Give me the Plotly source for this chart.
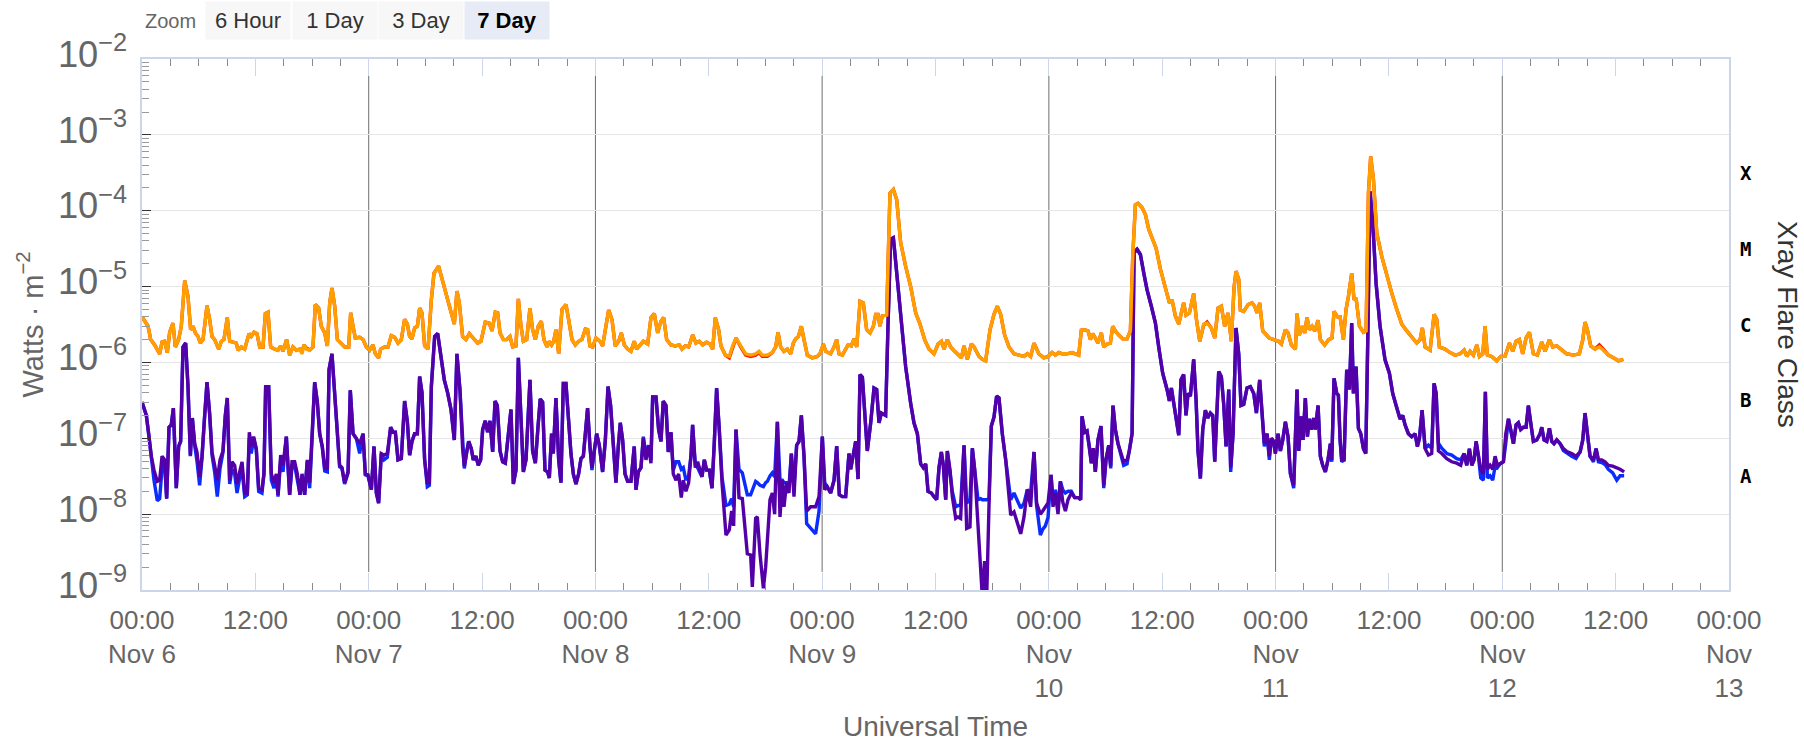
import pandas as pd
import plotly.graph_objects as go

START = pd.Timestamp("2024-11-06 00:00")

# ---------------- long channel (0.1-0.8 nm) ----------------
hours_long = [
    0.0, 0.64, 0.92, 1.34, 1.87, 2.12, 2.4, 2.68, 2.93, 3.28,
    3.53, 3.88, 4.16, 4.52, 4.87, 5.15, 5.4, 5.65, 5.93, 6.17,
    6.46, 6.88, 7.16, 7.41, 7.69, 8.12, 8.4, 8.68, 9.03, 9.28,
    9.63, 9.99, 10.16, 10.52, 10.87, 11.33, 11.57, 11.86, 12.17, 12.46,
    12.81, 13.06, 13.34, 13.62, 14.04, 14.4, 14.68, 14.93, 15.31, 15.63,
    15.98, 16.34, 16.69, 16.94, 17.15, 17.4, 17.75, 18.1, 18.35, 18.7,
    18.98, 19.34, 19.62, 19.87, 20.11, 20.4, 20.68, 21.1, 21.45, 21.88,
    22.09, 22.34, 22.58, 23.04, 23.4, 23.75, 24.1, 24.45, 24.7, 25.05,
    25.26, 25.69, 26.04, 26.39, 26.75, 27.1, 27.45, 27.8, 28.09, 28.33,
    28.58, 28.86, 29.15, 29.39, 29.64, 29.92, 30.28, 30.63, 30.91, 31.4,
    31.83, 32.18, 32.6, 33.06, 33.34, 33.59, 33.94, 34.3, 34.65, 35.07,
    35.53, 35.88, 36.34, 36.77, 37.05, 37.4, 37.65, 37.9, 38.25, 38.6,
    38.95, 39.24, 39.59, 39.84, 40.12, 40.37, 40.72, 41.07, 41.35, 41.64,
    41.95, 42.27, 42.55, 42.87, 43.12, 43.36, 43.58, 43.82, 44.11, 44.46,
    44.88, 45.16, 45.52, 45.87, 46.22, 46.57, 46.93, 47.17, 47.42, 47.7,
    48.06, 48.48, 48.76, 49.05, 49.4, 49.75, 50.1, 50.46, 50.74, 51.06,
    51.41, 51.76, 52.11, 52.36, 52.72, 53.07, 53.53, 53.88, 54.23, 54.59,
    54.94, 55.22, 55.54, 56.0, 56.45, 56.88, 57.16, 57.51, 57.87, 58.29,
    58.64, 59.0, 59.35, 59.77, 60.12, 60.41, 60.69, 61.04, 61.29, 61.75,
    62.17, 62.52, 62.88, 63.38, 63.9, 64.43, 64.96, 65.32, 65.67, 66.2,
    66.73, 67.08, 67.33, 67.61, 67.96, 68.32, 68.67, 68.95, 69.2, 69.48,
    69.8, 70.08, 70.43, 70.96, 71.49, 71.77, 72.13, 72.37, 72.9, 73.26,
    73.54, 73.78, 74.14, 74.74, 75.09, 75.37, 75.66, 76.01, 76.36, 76.71,
    77.07, 77.42, 77.67, 77.91, 78.12, 78.37, 78.83, 79.18, 79.54, 79.89,
    80.31, 80.84, 81.37, 81.9, 82.36, 82.85, 83.31, 83.84, 84.27, 84.62,
    84.9, 85.25, 85.6, 86.03, 86.38, 86.74, 87.02, 87.37, 87.8, 88.08,
    88.61, 88.96, 89.31, 89.77, 90.19, 90.55, 90.9, 91.32, 91.78, 92.31,
    92.84, 93.37, 93.72, 94.07, 94.43, 94.93, 95.46, 95.91, 96.34, 96.69,
    97.04, 97.4, 97.93, 98.45, 99.16, 99.44, 99.8, 100.15, 100.4, 100.64,
    100.92, 101.2, 101.56, 101.81, 102.16, 102.51, 102.76, 103.04, 103.39, 103.82,
    104.28, 104.63, 104.88, 105.16, 105.44, 105.86, 106.22, 106.57, 106.99, 107.35,
    107.81, 108.33, 108.76, 109.04, 109.39, 109.75, 110.03, 110.27, 110.52, 110.88,
    111.33, 111.62, 111.97, 112.39, 112.75, 113.2, 113.56, 113.91, 114.26, 114.61,
    114.97, 115.32, 115.6, 115.81, 116.1, 116.27, 116.63, 117.09, 117.51, 117.79,
    118.04, 118.32, 118.64, 118.99, 119.34, 119.8, 120.33, 120.61, 121.04, 121.32,
    121.67, 122.1, 122.27, 122.52, 122.8, 123.08, 123.33, 123.58, 123.86, 124.14,
    124.5, 124.74, 125.2, 125.62, 125.98, 126.19, 126.55, 126.83, 127.18, 127.46,
    127.71, 128.06, 128.31, 128.52, 128.88, 129.3, 129.58, 129.83, 130.07, 130.36,
    130.71, 131.24, 131.77, 132.3, 132.83, 133.36, 133.89, 134.41, 134.94, 135.3,
    135.54, 135.83, 136.36, 136.78, 137.06, 137.34, 137.94, 138.47, 139.0, 139.53,
    139.96, 140.24, 140.59, 140.94, 141.3, 141.58, 141.93, 142.18, 142.42, 142.88,
    143.41, 143.84, 144.29, 144.76, 145.11, 145.46, 145.81, 146.16, 146.52, 146.87,
    147.29, 147.72, 148.18, 148.53, 148.99, 149.34, 149.77, 150.19, 150.82, 151.53,
    152.16, 152.52, 152.76, 153.01, 153.36, 153.82, 154.28, 154.7, 155.23, 155.76,
    156.29, 156.82,
]

xrs_long_primary = [
    4.0e-6, 3.0e-6, 2.0e-6, 1.7e-6, 1.3e-6, 1.85e-6, 1.9e-6, 1.35e-6, 2.5e-6, 3.3e-6,
    1.6e-6, 2.0e-6, 3.0e-6, 1.2e-5, 7.4e-6, 2.7e-6, 3.0e-6, 2.45e-6, 2.2e-6, 1.8e-6,
    2.0e-6, 5.6e-6, 3.7e-6, 2.2e-6, 2.0e-6, 1.5e-6, 1.9e-6, 2.0e-6, 3.9e-6, 1.9e-6,
    1.85e-6, 1.8e-6, 1.45e-6, 1.6e-6, 1.5e-6, 2.4e-6, 2.2e-6, 2.5e-6, 2.4e-6, 1.6e-6,
    1.6e-6, 4.4e-6, 4.6e-6, 1.6e-6, 1.5e-6, 1.45e-6, 1.65e-6, 1.4e-6, 2.0e-6, 1.25e-6,
    1.6e-6, 1.45e-6, 1.5e-6, 1.3e-6, 1.7e-6, 1.5e-6, 1.45e-6, 1.6e-6, 5.8e-6, 5.2e-6,
    3.0e-6, 2.45e-6, 1.65e-6, 6.1e-6, 9.6e-6, 5.5e-6, 2.0e-6, 1.8e-6, 1.6e-6, 1.6e-6,
    4.5e-6, 3.0e-6, 2.1e-6, 2.15e-6, 2.0e-6, 1.6e-6, 1.45e-6, 1.7e-6, 1.3e-6, 1.15e-6,
    1.5e-6, 1.6e-6, 1.6e-6, 2.25e-6, 2.15e-6, 1.8e-6, 2.0e-6, 3.7e-6, 3.2e-6, 2.2e-6,
    2.05e-6, 2.85e-6, 3.0e-6, 5.2e-6, 4.5e-6, 1.65e-6, 1.5e-6, 6.7e-6, 1.5e-5, 1.85e-5,
    1.2e-5, 8.2e-6, 5.2e-6, 3.2e-6, 8.7e-6, 6.1e-6, 2.2e-6, 2.0e-6, 2.4e-6, 2.05e-6,
    1.8e-6, 1.9e-6, 3.4e-6, 3.3e-6, 2.6e-6, 4.6e-6, 4.5e-6, 2.45e-6, 2.0e-6, 2.0e-6,
    2.2e-6, 1.6e-6, 1.65e-6, 6.9e-6, 3.0e-6, 1.9e-6, 2.0e-6, 5.2e-6, 2.7e-6, 2.0e-6,
    3.0e-6, 3.5e-6, 2.0e-6, 1.6e-6, 1.9e-6, 1.7e-6, 1.9e-6, 2.7e-6, 1.3e-6, 5.0e-6,
    5.8e-6, 3.7e-6, 2.0e-6, 1.7e-6, 1.9e-6, 2.0e-6, 2.75e-6, 2.7e-6, 1.65e-6, 1.6e-6,
    2.1e-6, 1.9e-6, 1.65e-6, 2.7e-6, 4.9e-6, 3.7e-6, 1.65e-6, 1.9e-6, 2.45e-6, 1.7e-6,
    1.5e-6, 1.4e-6, 1.9e-6, 1.5e-6, 1.7e-6, 1.9e-6, 1.75e-6, 3.9e-6, 4.4e-6, 2.45e-6,
    3.5e-6, 3.9e-6, 2.0e-6, 1.7e-6, 1.65e-6, 1.7e-6, 1.5e-6, 1.65e-6, 1.6e-6, 2.3e-6,
    1.8e-6, 1.9e-6, 1.7e-6, 1.85e-6, 1.75e-6, 1.5e-6, 3.9e-6, 2.7e-6, 1.65e-6, 1.25e-6,
    1.2e-6, 1.65e-6, 2.1e-6, 1.65e-6, 1.3e-6, 1.25e-6, 1.3e-6, 1.4e-6, 1.25e-6, 1.25e-6,
    1.35e-6, 1.6e-6, 2.5e-6, 1.6e-6, 1.4e-6, 1.5e-6, 1.3e-6, 1.8e-6, 2.05e-6, 2.2e-6,
    3.0e-6, 2.0e-6, 1.25e-6, 1.15e-6, 1.2e-6, 1.3e-6, 1.75e-6, 1.4e-6, 1.3e-6, 1.6e-6,
    2.0e-6, 1.3e-6, 1.25e-6, 1.7e-6, 1.65e-6, 2.05e-6, 1.6e-6, 6.4e-6, 6.1e-6, 2.7e-6,
    2.45e-6, 3.0e-6, 4.3e-6, 4.3e-6, 3.0e-6, 4.1e-6, 4.2e-6, 1.7e-4, 1.9e-4, 1.4e-4,
    3.8e-5, 1.85e-5, 1.0e-5, 4.5e-6, 3.2e-6, 2.0e-6, 1.5e-6, 1.3e-6, 1.75e-6, 1.9e-6,
    1.5e-6, 2.0e-6, 1.6e-6, 1.4e-6, 1.25e-6, 1.15e-6, 1.65e-6, 1.1e-6, 1.75e-6, 1.6e-6,
    1.2e-6, 1.1e-6, 1.05e-6, 2.7e-6, 4.3e-6, 5.5e-6, 4.3e-6, 2.3e-6, 1.6e-6, 1.3e-6,
    1.25e-6, 1.2e-6, 1.3e-6, 1.2e-6, 1.8e-6, 1.3e-6, 1.15e-6, 1.2e-6, 1.35e-6, 1.25e-6,
    1.35e-6, 1.3e-6, 1.3e-6, 1.35e-6, 1.25e-6, 2.65e-6, 2.7e-6, 2.6e-6, 2.0e-6, 2.4e-6,
    2.1e-6, 1.8e-6, 2.45e-6, 1.6e-6, 1.75e-6, 1.8e-6, 3.0e-6, 2.6e-6, 2.3e-6, 2.05e-6,
    2.05e-6, 2.6e-6, 2.5e-5, 1.2e-4, 1.25e-4, 1.1e-4, 8.9e-5, 5.7e-5, 4.2e-5, 3.2e-5,
    1.7e-5, 1.0e-5, 6.1e-6, 6.7e-6, 4.1e-6, 3.2e-6, 4.5e-6, 6.1e-6, 4.2e-6, 4.5e-6,
    8.1e-6, 3.7e-6, 1.9e-6, 3.2e-6, 3.3e-6, 2.85e-6, 2.1e-6, 5.2e-6, 5.5e-6, 3.0e-6,
    4.5e-6, 1.9e-6, 9.6e-6, 1.6e-5, 1.25e-5, 4.9e-6, 4.7e-6, 5.8e-6, 6.1e-6, 5.5e-6,
    4.5e-6, 6.1e-6, 2.6e-6, 2.3e-6, 2.1e-6, 2.0e-6, 1.9e-6, 1.75e-6, 2.7e-6, 2.45e-6,
    1.7e-6, 1.5e-6, 4.4e-6, 2.3e-6, 3.0e-6, 2.45e-6, 3.9e-6, 2.7e-6, 3.0e-6, 2.6e-6,
    3.6e-6, 2.0e-6, 1.7e-6, 2.0e-6, 2.1e-6, 4.7e-6, 4.0e-6, 4.0e-6, 2.0e-6, 5.0e-6,
    7.4e-6, 1.5e-5, 6.7e-6, 7.1e-6, 3.0e-6, 2.5e-6, 2.6e-6, 1.7e-4, 5.2e-4, 2.6e-4,
    5.1e-5, 2.5e-5, 1.37e-5, 8.2e-6, 5.0e-6, 3.2e-6, 2.6e-6, 2.2e-6, 1.8e-6, 2.0e-6,
    2.85e-6, 1.6e-6, 1.45e-6, 4.3e-6, 3.7e-6, 1.6e-6, 1.5e-6, 1.35e-6, 1.25e-6, 1.3e-6,
    1.45e-6, 1.2e-6, 1.4e-6, 1.25e-6, 1.7e-6, 1.2e-6, 1.3e-6, 3.0e-6, 1.25e-6, 1.2e-6,
    1.05e-6, 1.2e-6, 1.2e-6, 1.8e-6, 1.4e-6, 1.9e-6, 2.0e-6, 1.3e-6, 2.1e-6, 2.5e-6,
    1.3e-6, 1.25e-6, 1.85e-6, 1.4e-6, 2.0e-6, 1.6e-6, 1.65e-6, 1.5e-6, 1.3e-6, 1.25e-6,
    1.3e-6, 2.0e-6, 3.4e-6, 2.7e-6, 1.65e-6, 1.5e-6, 1.6e-6, 1.45e-6, 1.25e-6, 1.15e-6,
    1.05e-6, 1.1e-6,
]

xrs_long_secondary = [
    4.0e-6, 3.0e-6, 2.0e-6, 1.7e-6, 1.3e-6, 1.85e-6, 1.9e-6, 1.35e-6, 2.5e-6, 3.3e-6,
    1.6e-6, 2.0e-6, 3.0e-6, 1.2e-5, 7.4e-6, 2.7e-6, 3.0e-6, 2.45e-6, 2.2e-6, 1.8e-6,
    2.0e-6, 5.6e-6, 3.7e-6, 2.2e-6, 2.0e-6, 1.5e-6, 1.9e-6, 2.0e-6, 3.9e-6, 1.9e-6,
    1.85e-6, 1.8e-6, 1.45e-6, 1.6e-6, 1.5e-6, 2.4e-6, 2.2e-6, 2.5e-6, 2.4e-6, 1.6e-6,
    1.6e-6, 4.4e-6, 4.6e-6, 1.6e-6, 1.5e-6, 1.45e-6, 1.65e-6, 1.4e-6, 2.0e-6, 1.25e-6,
    1.6e-6, 1.45e-6, 1.5e-6, 1.4e-6, 1.7e-6, 1.55e-6, 1.45e-6, 1.6e-6, 5.8e-6, 5.2e-6,
    3.0e-6, 2.45e-6, 1.65e-6, 6.1e-6, 9.6e-6, 5.5e-6, 2.0e-6, 1.8e-6, 1.6e-6, 1.6e-6,
    4.5e-6, 3.0e-6, 2.1e-6, 2.15e-6, 2.0e-6, 1.6e-6, 1.45e-6, 1.7e-6, 1.3e-6, 1.15e-6,
    1.5e-6, 1.6e-6, 1.6e-6, 2.25e-6, 2.15e-6, 1.8e-6, 2.0e-6, 3.7e-6, 3.2e-6, 2.2e-6,
    2.05e-6, 2.85e-6, 3.0e-6, 5.2e-6, 4.5e-6, 1.65e-6, 1.5e-6, 6.7e-6, 1.5e-5, 1.85e-5,
    1.2e-5, 8.2e-6, 5.2e-6, 3.2e-6, 8.7e-6, 6.1e-6, 2.2e-6, 2.0e-6, 2.4e-6, 2.05e-6,
    1.8e-6, 1.9e-6, 3.4e-6, 3.3e-6, 2.6e-6, 4.6e-6, 4.5e-6, 2.45e-6, 2.0e-6, 2.0e-6,
    2.2e-6, 1.6e-6, 1.65e-6, 6.9e-6, 3.0e-6, 1.9e-6, 2.0e-6, 5.2e-6, 2.7e-6, 2.0e-6,
    3.0e-6, 3.5e-6, 2.0e-6, 1.6e-6, 1.9e-6, 1.7e-6, 1.9e-6, 2.7e-6, 1.3e-6, 5.0e-6,
    5.8e-6, 3.7e-6, 2.0e-6, 1.7e-6, 1.9e-6, 2.0e-6, 2.75e-6, 2.7e-6, 1.65e-6, 1.6e-6,
    2.1e-6, 1.9e-6, 1.65e-6, 2.7e-6, 4.9e-6, 3.7e-6, 1.65e-6, 1.9e-6, 2.45e-6, 1.7e-6,
    1.5e-6, 1.4e-6, 1.9e-6, 1.5e-6, 1.7e-6, 1.9e-6, 1.75e-6, 3.9e-6, 4.4e-6, 2.45e-6,
    3.5e-6, 3.9e-6, 2.0e-6, 1.7e-6, 1.65e-6, 1.7e-6, 1.5e-6, 1.65e-6, 1.6e-6, 2.3e-6,
    1.8e-6, 1.9e-6, 1.7e-6, 1.85e-6, 1.75e-6, 1.5e-6, 3.9e-6, 2.7e-6, 1.65e-6, 1.25e-6,
    1.15e-6, 1.6e-6, 2.1e-6, 1.6e-6, 1.25e-6, 1.2e-6, 1.25e-6, 1.35e-6, 1.2e-6, 1.2e-6,
    1.35e-6, 1.6e-6, 2.5e-6, 1.6e-6, 1.4e-6, 1.5e-6, 1.3e-6, 1.8e-6, 2.05e-6, 2.2e-6,
    3.0e-6, 2.0e-6, 1.25e-6, 1.15e-6, 1.2e-6, 1.3e-6, 1.75e-6, 1.4e-6, 1.3e-6, 1.6e-6,
    2.0e-6, 1.3e-6, 1.25e-6, 1.7e-6, 1.65e-6, 2.05e-6, 1.6e-6, 6.4e-6, 6.1e-6, 2.7e-6,
    2.45e-6, 3.0e-6, 4.3e-6, 4.3e-6, 3.0e-6, 4.1e-6, 4.2e-6, 1.7e-4, 1.9e-4, 1.4e-4,
    3.8e-5, 1.85e-5, 1.0e-5, 4.5e-6, 3.2e-6, 2.0e-6, 1.5e-6, 1.3e-6, 1.75e-6, 1.9e-6,
    1.5e-6, 2.0e-6, 1.6e-6, 1.4e-6, 1.25e-6, 1.15e-6, 1.65e-6, 1.1e-6, 1.75e-6, 1.6e-6,
    1.2e-6, 1.1e-6, 1.05e-6, 2.7e-6, 4.3e-6, 5.5e-6, 4.3e-6, 2.3e-6, 1.6e-6, 1.3e-6,
    1.25e-6, 1.2e-6, 1.3e-6, 1.2e-6, 1.8e-6, 1.3e-6, 1.15e-6, 1.2e-6, 1.35e-6, 1.25e-6,
    1.35e-6, 1.3e-6, 1.3e-6, 1.35e-6, 1.25e-6, 2.65e-6, 2.7e-6, 2.6e-6, 2.0e-6, 2.4e-6,
    2.1e-6, 1.8e-6, 2.45e-6, 1.6e-6, 1.75e-6, 1.8e-6, 3.0e-6, 2.6e-6, 2.3e-6, 2.05e-6,
    2.05e-6, 2.6e-6, 2.5e-5, 1.2e-4, 1.25e-4, 1.1e-4, 8.9e-5, 5.7e-5, 4.2e-5, 3.2e-5,
    1.7e-5, 1.0e-5, 6.1e-6, 6.7e-6, 4.1e-6, 3.2e-6, 4.5e-6, 6.1e-6, 4.2e-6, 4.5e-6,
    8.1e-6, 3.7e-6, 1.9e-6, 3.1e-6, 3.4e-6, 2.85e-6, 2.1e-6, 5.2e-6, 5.5e-6, 3.0e-6,
    4.5e-6, 1.9e-6, 9.6e-6, 1.6e-5, 1.25e-5, 4.9e-6, 4.7e-6, 5.8e-6, 6.1e-6, 5.5e-6,
    4.5e-6, 6.1e-6, 2.6e-6, 2.3e-6, 2.1e-6, 2.0e-6, 1.9e-6, 1.75e-6, 2.7e-6, 2.45e-6,
    1.7e-6, 1.5e-6, 4.4e-6, 2.3e-6, 3.0e-6, 2.45e-6, 3.9e-6, 2.7e-6, 3.0e-6, 2.6e-6,
    3.6e-6, 2.0e-6, 1.7e-6, 2.0e-6, 2.1e-6, 4.7e-6, 4.0e-6, 4.0e-6, 2.0e-6, 5.0e-6,
    7.4e-6, 1.5e-5, 6.7e-6, 7.1e-6, 3.0e-6, 2.5e-6, 2.6e-6, 1.7e-4, 5.2e-4, 2.6e-4,
    5.1e-5, 2.5e-5, 1.37e-5, 8.2e-6, 5.0e-6, 3.2e-6, 2.6e-6, 2.2e-6, 1.8e-6, 2.0e-6,
    2.85e-6, 1.6e-6, 1.45e-6, 4.3e-6, 3.7e-6, 1.6e-6, 1.5e-6, 1.35e-6, 1.25e-6, 1.3e-6,
    1.45e-6, 1.2e-6, 1.4e-6, 1.25e-6, 1.7e-6, 1.2e-6, 1.3e-6, 3.0e-6, 1.25e-6, 1.2e-6,
    1.05e-6, 1.2e-6, 1.2e-6, 1.8e-6, 1.4e-6, 1.9e-6, 2.0e-6, 1.3e-6, 2.1e-6, 2.5e-6,
    1.3e-6, 1.25e-6, 1.85e-6, 1.4e-6, 2.0e-6, 1.6e-6, 1.65e-6, 1.5e-6, 1.3e-6, 1.25e-6,
    1.3e-6, 2.0e-6, 3.4e-6, 2.7e-6, 1.65e-6, 1.5e-6, 1.7e-6, 1.5e-6, 1.25e-6, 1.15e-6,
    1.05e-6, 1.1e-6,
]

# ---------------- short channel (0.05-0.4 nm) ----------------
hours_short = [
    0.0, 0.46, 0.71, 0.99, 1.27, 1.62, 1.87, 2.12, 2.4, 2.61,
    2.86, 3.1, 3.32, 3.63, 3.88, 4.09, 4.34, 4.62, 4.87, 5.12,
    5.33, 5.58, 5.82, 6.1, 6.35, 6.63, 6.88, 7.16, 7.41, 7.69,
    7.97, 8.26, 8.57, 8.82, 9.03, 9.28, 9.53, 9.81, 10.06, 10.34,
    10.59, 10.87, 11.15, 11.36, 11.57, 11.82, 12.1, 12.35, 12.7, 12.91,
    13.09, 13.41, 13.69, 13.97, 14.22, 14.4, 14.68, 14.93, 15.28, 15.63,
    15.88, 16.16, 16.44, 16.73, 16.94, 17.22, 17.5, 17.75, 18.0, 18.28,
    18.56, 18.81, 19.09, 19.34, 19.62, 19.8, 20.11, 20.4, 20.68, 20.92,
    21.17, 21.45, 21.81, 22.05, 22.34, 22.69, 23.04, 23.4, 23.64, 23.92,
    24.28, 24.56, 24.81, 25.05, 25.33, 25.62, 25.97, 26.32, 26.57, 26.82,
    27.1, 27.45, 27.8, 28.09, 28.33, 28.58, 28.86, 29.15, 29.39, 29.64,
    29.92, 30.2, 30.42, 30.63, 30.98, 31.3, 31.65, 32.0, 32.35, 32.71,
    33.06, 33.34, 33.66, 33.94, 34.12, 34.37, 34.58, 34.86, 35.07, 35.35,
    35.6, 35.85, 36.06, 36.34, 36.59, 36.84, 37.12, 37.37, 37.61, 37.9,
    38.18, 38.46, 38.71, 39.06, 39.31, 39.59, 39.84, 40.12, 40.37, 40.65,
    41.07, 41.35, 41.64, 41.92, 42.16, 42.41, 42.66, 42.94, 43.12, 43.36,
    43.54, 43.82, 44.11, 44.35, 44.6, 44.88, 45.16, 45.41, 45.66, 45.94,
    46.22, 46.47, 46.72, 46.93, 47.17, 47.42, 47.63, 47.88, 48.13, 48.41,
    48.76, 49.05, 49.33, 49.61, 49.89, 50.17, 50.42, 50.63, 50.88, 51.13,
    51.41, 51.76, 52.11, 52.29, 52.54, 52.82, 53.07, 53.35, 53.63, 53.88,
    54.06, 54.41, 54.69, 54.94, 55.18, 55.47, 55.71, 56.0, 56.24, 56.53,
    56.81, 57.09, 57.3, 57.58, 57.87, 58.11, 58.29, 58.57, 58.82, 59.07,
    59.28, 59.53, 59.77, 60.06, 60.34, 60.59, 60.83, 61.11, 61.4, 61.82,
    62.17, 62.42, 62.63, 62.88, 63.2, 63.55, 64.08, 64.43, 64.61, 64.96,
    65.14, 65.42, 65.78, 66.02, 66.2, 66.48, 66.73, 66.97, 67.26, 67.54,
    67.79, 67.96, 68.24, 68.49, 68.74, 69.02, 69.3, 69.55, 69.8, 70.08,
    70.36, 70.79, 71.31, 71.67, 72.02, 72.27, 72.55, 72.9, 73.26, 73.54,
    73.82, 74.14, 74.49, 74.84, 75.02, 75.3, 75.55, 75.8, 76.01, 76.26,
    76.5, 76.78, 77.14, 77.49, 77.77, 78.02, 78.27, 78.72, 78.97, 79.25,
    79.54, 79.96, 80.38, 80.84, 81.37, 81.72, 82.08, 82.43, 82.71, 82.96,
    83.21, 83.56, 83.84, 84.12, 84.37, 84.62, 84.83, 85.08, 85.25, 85.54,
    85.78, 86.14, 86.38, 86.66, 87.02, 87.3, 87.65, 87.9, 88.15, 88.5,
    88.78, 88.96, 89.2, 89.42, 89.66, 89.91, 90.19, 90.47, 90.72, 91.07,
    91.43, 91.67, 91.96, 92.31, 92.59, 93.02, 93.37, 93.72, 94.07, 94.43,
    94.7, 95.1, 95.35, 95.63, 95.91, 96.23, 96.44, 96.69, 96.97, 97.22,
    97.47, 97.75, 98.03, 98.38, 98.74, 99.16, 99.37, 99.51, 99.8, 100.04,
    100.29, 100.5, 100.71, 100.92, 101.2, 101.52, 101.81, 102.05, 102.34, 102.55,
    102.79, 103.04, 103.32, 103.6, 103.92, 104.28, 104.52, 104.81, 105.02, 105.34,
    105.69, 106.04, 106.39, 106.85, 107.28, 107.63, 108.05, 108.51, 108.76, 108.97,
    109.22, 109.46, 109.75, 109.99, 110.27, 110.52, 110.73, 110.98, 111.33, 111.58,
    111.79, 112.04, 112.29, 112.57, 112.82, 113.1, 113.35, 113.56, 113.8, 113.98,
    114.26, 114.51, 114.76, 115.04, 115.25, 115.5, 115.81, 116.1, 116.34, 116.63,
    116.98, 117.33, 117.69, 117.97, 118.32, 118.57, 118.81, 119.1, 119.34, 119.56,
    119.8, 119.98, 120.26, 120.51, 120.76, 121.04, 121.32, 121.57, 121.92, 122.27,
    122.45, 122.7, 122.91, 123.15, 123.37, 123.58, 123.79, 124.04, 124.21, 124.5,
    124.74, 124.99, 125.27, 125.55, 125.8, 125.95, 126.19, 126.48, 126.65, 126.83,
    127.0, 127.25, 127.53, 127.82, 128.06, 128.24, 128.52, 128.77, 129.02, 129.3,
    129.55, 129.76, 130.0, 130.29, 130.64, 131.06, 131.59, 132.05, 132.4, 132.76,
    133.18, 133.46, 133.71, 134.06, 134.41, 134.77, 135.01, 135.23, 135.51, 135.83,
    136.18, 136.53, 136.78, 137.0, 137.24, 137.59, 138.12, 138.65, 139.18, 139.6,
    139.96, 140.24, 140.52, 140.77, 141.01, 141.23, 141.47, 141.72, 142.0, 142.21,
    142.42, 142.71, 142.99, 143.24, 143.48, 143.77, 144.12, 144.37, 144.65, 144.89,
    145.18, 145.46, 145.7, 145.95, 146.24, 146.52, 146.76, 147.01, 147.29, 147.65,
    148.0, 148.18, 148.42, 148.71, 148.99, 149.24, 149.48, 149.77, 150.12, 150.47,
    150.9, 151.35, 151.81, 152.24, 152.52, 152.76, 153.01, 153.29, 153.65, 153.93,
    154.18, 154.53, 154.88, 155.23, 155.69, 156.12, 156.47, 156.9,
]

xrs_short_primary = [
    3.0e-7, 2.0e-7, 1.15e-7, 5.8e-8, 3.8e-8, 2.7e-8, 2.8e-8, 5.8e-8, 5.2e-8, 1.6e-8,
    1.4e-7, 1.5e-7, 2.5e-7, 2.2e-8, 7.8e-8, 9.1e-8, 1.6e-6, 1.8e-6, 4.8e-7, 6.0e-8,
    1.85e-7, 8.5e-8, 6.6e-8, 3.1e-8, 5.8e-8, 2.0e-7, 5.5e-7, 2.1e-7, 6.6e-8, 4.4e-8,
    2.8e-8, 5.2e-8, 6.8e-8, 2.0e-7, 3.4e-7, 2.8e-8, 4.9e-8, 4.4e-8, 2.5e-8, 3.6e-8,
    4.9e-8, 1.9e-8, 1.9e-8, 1.2e-7, 7.8e-8, 1.05e-7, 7.3e-8, 2.2e-8, 2.1e-8, 3.4e-8,
    4.8e-7, 4.8e-7, 3.4e-8, 2.6e-8, 3.4e-8, 1.8e-8, 6.0e-8, 4.4e-8, 1.05e-7, 1.8e-8,
    4.9e-8, 4.9e-8, 3.4e-8, 1.8e-8, 3.4e-8, 1.8e-8, 5.2e-8, 2.6e-8, 9.5e-8, 5.5e-7,
    3.0e-7, 1.15e-7, 7.8e-8, 4.1e-8, 3.9e-8, 8.0e-7, 1.3e-6, 4.0e-7, 1.15e-7, 4.4e-8,
    4.1e-8, 2.6e-8, 3.6e-8, 4.3e-7, 1.15e-7, 1.0e-7, 8.5e-8, 1.15e-7, 3.4e-8, 3.3e-8,
    2.1e-8, 7.8e-8, 1.9e-8, 1.4e-8, 6.3e-8, 6.0e-8, 6.3e-8, 1.4e-7, 1.2e-7, 1.2e-7,
    5.2e-8, 5.4e-8, 3.1e-7, 1.65e-7, 6.0e-8, 9.1e-8, 1.15e-7, 1.15e-7, 6.5e-7, 4.0e-7,
    5.2e-8, 2.6e-8, 2.6e-8, 4.8e-7, 2.2e-6, 2.4e-6, 1.2e-6, 5.9e-7, 4.0e-7, 2.4e-7,
    9.5e-8, 1.3e-6, 4.3e-7, 7.3e-8, 4.3e-8, 6.6e-8, 9.1e-8, 7.3e-8, 5.2e-8, 5.8e-8,
    4.4e-8, 5.2e-8, 1.3e-7, 1.7e-7, 1.2e-7, 1.7e-7, 6.6e-8, 3.1e-7, 2.7e-7, 6.8e-8,
    4.9e-8, 4.7e-8, 9.5e-8, 2.4e-7, 2.5e-8, 3.8e-8, 1.15e-6, 1.6e-7, 3.6e-8, 5.2e-8,
    5.9e-7, 6.8e-8, 4.7e-8, 1.4e-7, 3.3e-7, 3.0e-7, 3.8e-8, 3.6e-8, 3.0e-8, 1.15e-7,
    6.3e-8, 3.4e-7, 5.2e-8, 2.6e-8, 5.3e-7, 5.3e-7, 1.6e-7, 6.3e-8, 3.4e-8, 2.5e-8,
    3.4e-8, 5.4e-8, 5.8e-8, 1.15e-7, 2.5e-7, 7.8e-8, 4.1e-8, 6.8e-8, 1.15e-7, 8.1e-8,
    3.6e-8, 9.5e-8, 4.8e-7, 2.7e-7, 9.5e-8, 2.6e-8, 7.8e-8, 1.6e-7, 9.5e-8, 3.4e-8,
    2.7e-8, 2.7e-8, 7.8e-8, 2.1e-8, 3.6e-8, 4.1e-8, 1.0e-7, 5.2e-8, 8.1e-8, 4.7e-8,
    3.5e-7, 3.5e-7, 1.3e-7, 9.1e-8, 3.1e-7, 2.7e-7, 6.6e-8, 1.2e-7, 3.4e-8, 2.8e-8,
    3.4e-8, 1.65e-8, 2.8e-8, 2.0e-8, 2.6e-8, 5.8e-8, 1.5e-7, 4.1e-8, 4.9e-8, 3.8e-8,
    3.1e-8, 5.2e-8, 3.8e-8, 3.8e-8, 2.2e-8, 9.1e-8, 4.6e-7, 1.3e-7, 2.6e-8, 5.3e-9,
    6.2e-9, 1.1e-8, 7.0e-9, 1.3e-7, 1.65e-8, 1.6e-8, 3.0e-9, 2.9e-9, 1.1e-9, 8.8e-9,
    9.2e-9, 3.0e-9, 1.05e-9, 2.0e-9, 4.5e-9, 1.55e-8, 1.9e-8, 1.0e-8, 1.65e-7, 9.2e-9,
    2.8e-8, 1.25e-8, 2.6e-8, 1.9e-8, 6.3e-8, 1.7e-8, 8.1e-8, 9.1e-8, 2.0e-7, 5.8e-8,
    1.1e-8, 1.25e-8, 1.25e-8, 1.7e-8, 1.05e-7, 2.1e-8, 2.3e-8, 1.9e-8, 2.8e-8, 7.9e-8,
    1.8e-8, 1.7e-8, 1.7e-8, 6.3e-8, 3.9e-8, 6.0e-8, 9.1e-8, 2.9e-8, 6.9e-7, 6.4e-7,
    2.6e-7, 6.8e-8, 1.6e-7, 4.6e-7, 4.4e-7, 1.6e-7, 2.15e-7, 2.0e-7, 3.0e-6, 4.2e-5,
    4.4e-5, 1.2e-5, 3.7e-6, 8.8e-7, 2.9e-7, 1.6e-7, 1.15e-7, 4.6e-8, 4.1e-8, 4.6e-8,
    2.0e-8, 1.9e-8, 1.7e-8, 1.55e-8, 4.1e-8, 6.6e-8, 4.4e-8, 1.55e-8, 6.8e-8, 3.8e-8,
    1.7e-8, 8.8e-9, 9.2e-9, 8.8e-9, 8.1e-8, 6.5e-9, 6.8e-9, 7.4e-8, 3.8e-8, 8.3e-9,
    2.1e-9, 8.0e-10, 2.4e-9, 8.0e-10, 1.25e-8, 1.45e-7, 1.9e-7, 3.6e-7, 3.4e-7, 1.15e-7,
    5.2e-8, 2.3e-8, 9.7e-9, 1.07e-8, 8.3e-9, 5.5e-9, 9.2e-9, 2.1e-8, 1.25e-8, 6.6e-8,
    1.4e-8, 1.0e-8, 1.1e-8, 1.25e-8, 1.4e-8, 3.3e-8, 1.25e-8, 1.9e-8, 1.0e-8, 2.7e-8,
    1.45e-8, 1.1e-8, 1.55e-8, 1.9e-8, 1.65e-8, 1.65e-8, 1.55e-8, 1.95e-7, 1.2e-7, 1.25e-7,
    7.8e-8, 4.7e-8, 7.4e-8, 3.6e-8, 9.5e-8, 1.45e-7, 2.4e-8, 5.2e-8, 8.1e-8, 4.3e-8,
    2.7e-7, 1.3e-7, 8.5e-8, 6.3e-8, 4.9e-8, 5.2e-8, 6.8e-8, 1.15e-7, 2.8e-5, 3.1e-5,
    2.65e-5, 1.5e-5, 9.1e-6, 5.5e-6, 3.3e-6, 1.6e-6, 7.2e-7, 4.4e-7, 3.1e-7, 4.6e-7,
    2.9e-7, 1.8e-7, 1.1e-7, 5.9e-7, 6.9e-7, 2.0e-7, 3.9e-7, 3.6e-7, 1.1e-6, 3.3e-7,
    6.8e-8, 2.95e-8, 1.3e-7, 2.35e-7, 1.85e-7, 2.15e-7, 2.0e-7, 4.9e-8, 3.3e-7, 7.6e-7,
    6.5e-7, 2.8e-7, 7.8e-8, 4.4e-7, 4.1e-8, 1.15e-7, 2.85e-6, 1.3e-6, 2.7e-7, 2.8e-7,
    4.6e-7, 4.8e-7, 3.9e-7, 2.15e-7, 5.9e-7, 1.95e-7, 8.5e-8, 1.15e-7, 5.8e-8, 1.0e-7,
    9.1e-8, 6.3e-8, 1.15e-7, 6.8e-8, 9.5e-8, 1.65e-7, 1.05e-7, 3.4e-8, 2.4e-8, 4.4e-7,
    6.8e-8, 1.95e-7, 9.5e-8, 3.4e-7, 1.05e-7, 1.8e-7, 1.3e-7, 1.85e-7, 1.3e-7, 2.7e-7,
    5.8e-8, 4.4e-8, 3.6e-8, 5.2e-8, 8.5e-8, 5.2e-8, 6.2e-7, 3.9e-7, 3.7e-7, 9.5e-8,
    5.2e-8, 5.2e-8, 8.0e-7, 4.4e-7, 3.3e-6, 3.9e-7, 8.8e-7, 1.35e-7, 1.15e-7, 7.3e-8,
    6.3e-8, 2.0e-6, 1.8e-4, 6.9e-5, 1.1e-5, 3.0e-6, 1.08e-6, 7.2e-7, 3.9e-7, 2.7e-7,
    1.8e-7, 2.0e-7, 1.5e-7, 1.15e-7, 1.05e-7, 1.15e-7, 7.8e-8, 1.0e-7, 2.35e-7, 7.3e-8,
    6.0e-8, 6.3e-8, 5.3e-7, 3.9e-7, 6.8e-8, 6.3e-8, 5.4e-8, 4.9e-8, 4.7e-8, 4.4e-8,
    6.3e-8, 4.4e-8, 7.3e-8, 4.4e-8, 5.2e-8, 9.1e-8, 5.8e-8, 3.9e-8, 3.4e-8, 4.1e-7,
    3.9e-8, 4.4e-8, 3.9e-8, 5.8e-8, 4.4e-8, 4.6e-8, 4.9e-8, 1.15e-7, 1.8e-7, 1.3e-7,
    8.5e-8, 1.5e-7, 1.6e-7, 1.3e-7, 1.4e-7, 1.4e-7, 2.7e-7, 1.6e-7, 9.1e-8, 9.5e-8,
    1.15e-7, 1.4e-7, 9.5e-8, 9.1e-8, 1.35e-7, 9.1e-8, 8.5e-8, 9.5e-8, 8.5e-8, 7.3e-8,
    6.6e-8, 6.3e-8, 5.8e-8, 6.6e-8, 9.5e-8, 2.15e-7, 1.15e-7, 5.8e-8, 5.2e-8, 7.3e-8,
    5.2e-8, 5.2e-8, 4.9e-8, 4.4e-8, 4.3e-8, 4.1e-8, 3.9e-8, 3.6e-8,
]

xrs_short_secondary = [
    3.0e-7, 2.0e-7, 1.1e-7, 5.0e-8, 2.8e-8, 1.5e-8, 1.6e-8, 4.0e-8, 4.6e-8, 1.6e-8,
    1.4e-7, 1.5e-7, 2.5e-7, 2.2e-8, 7.8e-8, 9.1e-8, 1.6e-6, 1.8e-6, 4.8e-7, 5.8e-8,
    1.85e-7, 8.0e-8, 5.0e-8, 2.4e-8, 5.4e-8, 2.0e-7, 5.5e-7, 2.1e-7, 6.0e-8, 3.6e-8,
    1.7e-8, 4.0e-8, 6.5e-8, 2.0e-7, 3.4e-7, 2.5e-8, 3.9e-8, 3.4e-8, 1.9e-8, 3.0e-8,
    3.9e-8, 1.7e-8, 1.8e-8, 1.0e-7, 6.3e-8, 1.0e-7, 7.0e-8, 2.0e-8, 1.9e-8, 3.4e-8,
    4.8e-7, 4.8e-7, 2.8e-8, 2.2e-8, 3.2e-8, 1.7e-8, 5.2e-8, 3.6e-8, 1.05e-7, 1.8e-8,
    4.3e-8, 4.4e-8, 2.9e-8, 1.8e-8, 3.2e-8, 1.8e-8, 5.0e-8, 2.2e-8, 9.5e-8, 5.5e-7,
    3.0e-7, 1.15e-7, 7.5e-8, 3.7e-8, 3.6e-8, 8.0e-7, 1.3e-6, 4.0e-7, 1.15e-7, 4.2e-8,
    4.0e-8, 2.5e-8, 3.5e-8, 4.3e-7, 1.15e-7, 1.0e-7, 6.3e-8, 1.15e-7, 3.3e-8, 3.2e-8,
    2.1e-8, 7.8e-8, 1.9e-8, 1.4e-8, 6.3e-8, 5.2e-8, 5.6e-8, 1.4e-7, 1.2e-7, 1.2e-7,
    5.2e-8, 5.4e-8, 3.1e-7, 1.65e-7, 6.0e-8, 9.1e-8, 1.15e-7, 1.15e-7, 6.5e-7, 4.0e-7,
    5.2e-8, 2.3e-8, 2.4e-8, 4.8e-7, 2.2e-6, 2.4e-6, 1.2e-6, 5.9e-7, 4.0e-7, 2.4e-7,
    9.5e-8, 1.3e-6, 4.3e-7, 7.3e-8, 4.0e-8, 6.6e-8, 9.1e-8, 7.3e-8, 5.2e-8, 5.8e-8,
    4.4e-8, 5.2e-8, 1.3e-7, 1.7e-7, 1.2e-7, 1.7e-7, 6.6e-8, 3.1e-7, 2.7e-7, 6.8e-8,
    4.9e-8, 4.7e-8, 9.5e-8, 2.4e-7, 2.5e-8, 3.8e-8, 1.15e-6, 1.6e-7, 3.6e-8, 5.2e-8,
    5.9e-7, 6.8e-8, 4.7e-8, 1.4e-7, 3.3e-7, 3.0e-7, 3.8e-8, 3.6e-8, 3.0e-8, 1.15e-7,
    6.3e-8, 3.4e-7, 5.2e-8, 2.6e-8, 5.3e-7, 5.3e-7, 1.6e-7, 6.3e-8, 3.4e-8, 2.5e-8,
    3.4e-8, 5.4e-8, 5.8e-8, 1.15e-7, 2.5e-7, 7.8e-8, 3.8e-8, 6.8e-8, 1.15e-7, 8.1e-8,
    3.6e-8, 9.5e-8, 4.8e-7, 2.7e-7, 9.5e-8, 2.6e-8, 7.8e-8, 1.6e-7, 9.5e-8, 3.4e-8,
    2.7e-8, 2.7e-8, 7.8e-8, 2.1e-8, 3.6e-8, 4.1e-8, 1.05e-7, 6.0e-8, 8.1e-8, 5.2e-8,
    3.5e-7, 3.5e-7, 1.3e-7, 9.1e-8, 3.1e-7, 2.7e-7, 6.6e-8, 1.2e-7, 3.8e-8, 4.9e-8,
    4.9e-8, 3.9e-8, 4.1e-8, 2.8e-8, 3.2e-8, 5.8e-8, 1.5e-7, 4.6e-8, 4.1e-8, 3.4e-8,
    3.1e-8, 5.2e-8, 3.8e-8, 3.8e-8, 2.2e-8, 9.1e-8, 4.6e-7, 1.3e-7, 3.1e-8, 1.3e-8,
    1.35e-8, 1.6e-8, 1.25e-8, 1.3e-7, 3.9e-8, 3.5e-8, 1.8e-8, 1.8e-8, 2.1e-8, 2.7e-8,
    2.6e-8, 2.4e-8, 2.3e-8, 2.6e-8, 2.7e-8, 3.2e-8, 3.5e-8, 3.1e-8, 1.65e-7, 2.8e-8,
    2.8e-8, 2.6e-8, 2.6e-8, 2.3e-8, 6.3e-8, 2.3e-8, 8.1e-8, 9.1e-8, 2.0e-7, 5.8e-8,
    7.5e-9, 6.5e-9, 5.5e-9, 1.1e-8, 1.05e-7, 2.6e-8, 2.3e-8, 1.9e-8, 2.8e-8, 7.9e-8,
    1.8e-8, 1.7e-8, 1.7e-8, 6.3e-8, 3.9e-8, 6.0e-8, 9.1e-8, 2.9e-8, 6.9e-7, 6.4e-7,
    2.6e-7, 6.8e-8, 1.6e-7, 4.6e-7, 4.4e-7, 1.6e-7, 2.15e-7, 2.0e-7, 3.0e-6, 4.2e-5,
    4.4e-5, 1.2e-5, 3.7e-6, 8.8e-7, 2.9e-7, 1.6e-7, 1.15e-7, 4.6e-8, 4.1e-8, 4.6e-8,
    2.0e-8, 1.9e-8, 1.7e-8, 1.55e-8, 4.1e-8, 6.6e-8, 4.4e-8, 1.55e-8, 6.8e-8, 3.8e-8,
    2.0e-8, 1.25e-8, 1.3e-8, 1.3e-8, 8.1e-8, 1.4e-8, 1.55e-8, 7.4e-8, 3.8e-8, 1.55e-8,
    1.6e-8, 1.55e-8, 1.55e-8, 1.55e-8, 1.6e-8, 1.45e-7, 1.9e-7, 3.6e-7, 3.4e-7, 1.15e-7,
    5.2e-8, 2.8e-8, 1.55e-8, 1.9e-8, 1.55e-8, 1.2e-8, 1.4e-8, 2.1e-8, 1.9e-8, 6.6e-8,
    1.3e-8, 5.3e-9, 6.3e-9, 7.0e-9, 9.0e-9, 3.3e-8, 1.55e-8, 2.1e-8, 1.25e-8, 2.7e-8,
    2.1e-8, 1.9e-8, 2.0e-8, 2.0e-8, 1.65e-8, 1.65e-8, 1.55e-8, 1.95e-7, 1.2e-7, 1.25e-7,
    7.8e-8, 4.7e-8, 7.4e-8, 3.6e-8, 9.5e-8, 1.45e-7, 2.2e-8, 5.2e-8, 8.1e-8, 4.0e-8,
    2.7e-7, 1.3e-7, 8.5e-8, 6.3e-8, 4.4e-8, 4.6e-8, 6.8e-8, 1.15e-7, 2.8e-5, 3.1e-5,
    2.65e-5, 1.5e-5, 9.1e-6, 5.5e-6, 3.3e-6, 1.6e-6, 7.2e-7, 4.4e-7, 3.1e-7, 4.6e-7,
    2.9e-7, 1.8e-7, 1.1e-7, 5.9e-7, 6.9e-7, 2.0e-7, 3.9e-7, 3.6e-7, 1.1e-6, 3.3e-7,
    6.8e-8, 2.95e-8, 1.3e-7, 2.35e-7, 1.85e-7, 2.15e-7, 2.0e-7, 4.9e-8, 3.3e-7, 7.6e-7,
    6.5e-7, 2.8e-7, 7.8e-8, 4.4e-7, 3.6e-8, 1.15e-7, 2.85e-6, 1.3e-6, 2.7e-7, 2.8e-7,
    4.6e-7, 4.8e-7, 3.9e-7, 2.15e-7, 5.9e-7, 1.95e-7, 7.8e-8, 1.15e-7, 5.2e-8, 1.0e-7,
    9.1e-8, 6.3e-8, 1.15e-7, 6.8e-8, 9.5e-8, 1.65e-7, 1.05e-7, 3.4e-8, 2.2e-8, 4.4e-7,
    6.8e-8, 1.95e-7, 9.5e-8, 3.4e-7, 1.05e-7, 1.8e-7, 1.3e-7, 1.85e-7, 1.3e-7, 2.7e-7,
    5.8e-8, 4.4e-8, 3.6e-8, 5.2e-8, 8.5e-8, 4.9e-8, 6.2e-7, 3.9e-7, 3.7e-7, 9.5e-8,
    4.9e-8, 5.2e-8, 8.0e-7, 4.4e-7, 3.3e-6, 3.9e-7, 8.8e-7, 1.35e-7, 1.15e-7, 7.3e-8,
    6.3e-8, 2.0e-6, 1.8e-4, 6.9e-5, 1.1e-5, 3.0e-6, 1.08e-6, 7.2e-7, 3.9e-7, 2.7e-7,
    1.8e-7, 2.0e-7, 1.5e-7, 1.15e-7, 1.05e-7, 1.15e-7, 7.8e-8, 1.0e-7, 2.35e-7, 7.3e-8,
    8.1e-8, 7.4e-8, 5.3e-7, 3.9e-7, 8.6e-8, 7.4e-8, 6.3e-8, 6.0e-8, 5.4e-8, 5.2e-8,
    6.3e-8, 4.4e-8, 7.3e-8, 4.4e-8, 5.2e-8, 9.1e-8, 5.8e-8, 3.0e-8, 2.8e-8, 4.1e-7,
    3.0e-8, 3.2e-8, 2.8e-8, 4.3e-8, 4.1e-8, 4.6e-8, 4.9e-8, 8.6e-8, 1.8e-7, 1.3e-7,
    8.5e-8, 1.5e-7, 1.6e-7, 1.3e-7, 1.4e-7, 1.4e-7, 2.7e-7, 1.6e-7, 9.1e-8, 9.5e-8,
    1.15e-7, 1.4e-7, 9.5e-8, 9.1e-8, 1.35e-7, 9.1e-8, 8.5e-8, 9.5e-8, 8.5e-8, 6.9e-8,
    6.3e-8, 5.8e-8, 5.4e-8, 6.6e-8, 9.5e-8, 2.15e-7, 1.15e-7, 5.8e-8, 4.9e-8, 7.3e-8,
    4.9e-8, 4.8e-8, 4.5e-8, 3.9e-8, 3.5e-8, 2.8e-8, 3.2e-8, 3.2e-8,
]

assert len(hours_long) == len(xrs_long_primary) == len(xrs_long_secondary)
assert len(hours_short) == len(xrs_short_primary) == len(xrs_short_secondary)

# ---------------- axis labels / annotations ----------------
tick_hours = [0, 12, 24, 36, 48, 60, 72, 84, 96, 108, 120, 132, 144, 156, 168]
tick_labels = ["00:00<br>Nov 6", "12:00", "00:00<br>Nov 7", "12:00", "00:00<br>Nov 8", "12:00",
               "00:00<br>Nov 9", "12:00", "00:00<br>Nov<br>10", "12:00", "00:00<br>Nov<br>11",
               "12:00", "00:00<br>Nov<br>12", "12:00", "00:00<br>Nov<br>13"]
day_line_hours = [24, 48, 72, 96, 120, 144]
flare_classes = ["X", "M", "C", "B", "A"]
flare_class_levels = [-3.5, -4.5, -5.5, -6.5, -7.5]
zoom_buttons = ["6 Hour", "1 Day", "3 Day", "7 Day"]
active_button = "7 Day"


def to_time(hours):
    return [START + pd.Timedelta(hours=h) for h in hours]


t_long = to_time(hours_long)
t_short = to_time(hours_short)

FONT = "Liberation Sans, Arial, sans-serif"
LINE_W = 3.4

fig = go.Figure()
fig.add_trace(go.Scatter(x=t_short, y=xrs_short_secondary, mode="lines",
                         line=dict(color="#0a2cff", width=LINE_W), name="0.05-0.4 nm (secondary)"))
fig.add_trace(go.Scatter(x=t_short, y=xrs_short_primary, mode="lines",
                         line=dict(color="#5400a8", width=LINE_W), name="0.05-0.4 nm"))
fig.add_trace(go.Scatter(x=t_long, y=xrs_long_secondary, mode="lines",
                         line=dict(color="#ff1a00", width=LINE_W), name="0.1-0.8 nm (secondary)"))
fig.add_trace(go.Scatter(x=t_long, y=xrs_long_primary, mode="lines",
                         line=dict(color="#ffa000", width=LINE_W), name="0.1-0.8 nm"))

# day boundary plot lines
for h in day_line_hours:
    d = START + pd.Timedelta(hours=h)
    fig.add_shape(type="line", xref="x", yref="paper", x0=d, x1=d, y0=0.034, y1=0.968,
                  line=dict(color="#6e6e6e", width=1), layer="below")

fig.update_xaxes(
    type="date",
    range=[START, START + pd.Timedelta(days=7)],
    tickmode="array",
    tickvals=to_time(tick_hours),
    ticktext=tick_labels,
    ticks="inside", ticklen=17, tickwidth=1, tickcolor="#ccd6eb",
    showline=True, linecolor="#ccd6eb", linewidth=2, mirror="ticks",
    showgrid=False, zeroline=False,
    tickfont=dict(family=FONT, size=26, color="#666666"),
    ticklabelstandoff=6,
    minor=dict(dtick=3 * 3600 * 1000, tick0=START, ticks="inside", ticklen=7,
               tickwidth=1, tickcolor="#8a8a8a", showgrid=False),
)

fig.update_yaxes(
    type="log",
    range=[-9, -2],
    dtick=1,
    exponentformat="power",
    ticks="inside", ticklen=9, tickwidth=1, tickcolor="#333333",
    showline=True, linecolor="#ccd6eb", linewidth=2, mirror=True,
    showgrid=True, gridcolor="#e6e6e6", gridwidth=1, zeroline=False,
    tickfont=dict(family=FONT, size=29, color="#666666"),
    ticklabelstandoff=7, ticklabelshift=-5,
    minor=dict(ticks="inside", ticklen=7, tickwidth=1, tickcolor="#9a9a9a", showgrid=False),
)

annotations = []
annotations.append(dict(text="Watts · m<sup>−2</sup>", xref="paper", yref="paper",
                        x=-0.0706, y=0.5, textangle=-90, showarrow=False,
                        xanchor="center", yanchor="middle",
                        font=dict(family=FONT, size=29, color="#666666")))
annotations.append(dict(text="Universal Time", xref="paper", yref="paper",
                        x=0.5, y=-0.258, showarrow=False, xanchor="center", yanchor="middle",
                        font=dict(family=FONT, size=28, color="#666666")))
annotations.append(dict(text="Xray Flare Class", xref="paper", yref="paper",
                        x=1.037, y=0.5, textangle=90, showarrow=False,
                        xanchor="center", yanchor="middle",
                        font=dict(family=FONT, size=28, color="#333333")))
for lab, lev in zip(flare_classes, flare_class_levels):
    annotations.append(dict(text="<b>" + lab + "</b>", xref="paper", yref="y",
                            x=1.0107, y=lev, showarrow=False, xanchor="center", yanchor="middle",
                            font=dict(family="DejaVu Sans Mono, monospace", size=19, color="#000000")))

# range-selector style zoom buttons
annotations.append(dict(text="Zoom", xref="paper", yref="paper", x=0.0006, y=1.0725,
                        showarrow=False, xanchor="left", yanchor="middle",
                        font=dict(family=FONT, size=20, color="#666666")))
btn_centers = [0.0671, 0.1216, 0.1758, 0.2303]
for lab, cx in zip(zoom_buttons, btn_centers):
    active = lab == active_button
    annotations.append(dict(text=("<b>" + lab + "</b>") if active else lab,
                            xref="paper", yref="paper", x=cx, y=1.0725,
                            showarrow=False, xanchor="center", yanchor="middle",
                            width=84, height=37, borderpad=0,
                            bgcolor="#e6ebf5" if active else "#f7f7f7",
                            font=dict(family=FONT, size=22, color="#000000" if active else "#333333")))

fig.update_layout(
    width=1804, height=742,
    margin=dict(l=142, r=75, t=59, b=152),
    paper_bgcolor="#ffffff", plot_bgcolor="#ffffff",
    showlegend=False,
    annotations=annotations,
    font=dict(family=FONT),
)

fig.write_html("out.html", config={"displayModeBar": False},
               post_script="document.body.style.margin='0px';document.body.style.overflow='hidden';")
